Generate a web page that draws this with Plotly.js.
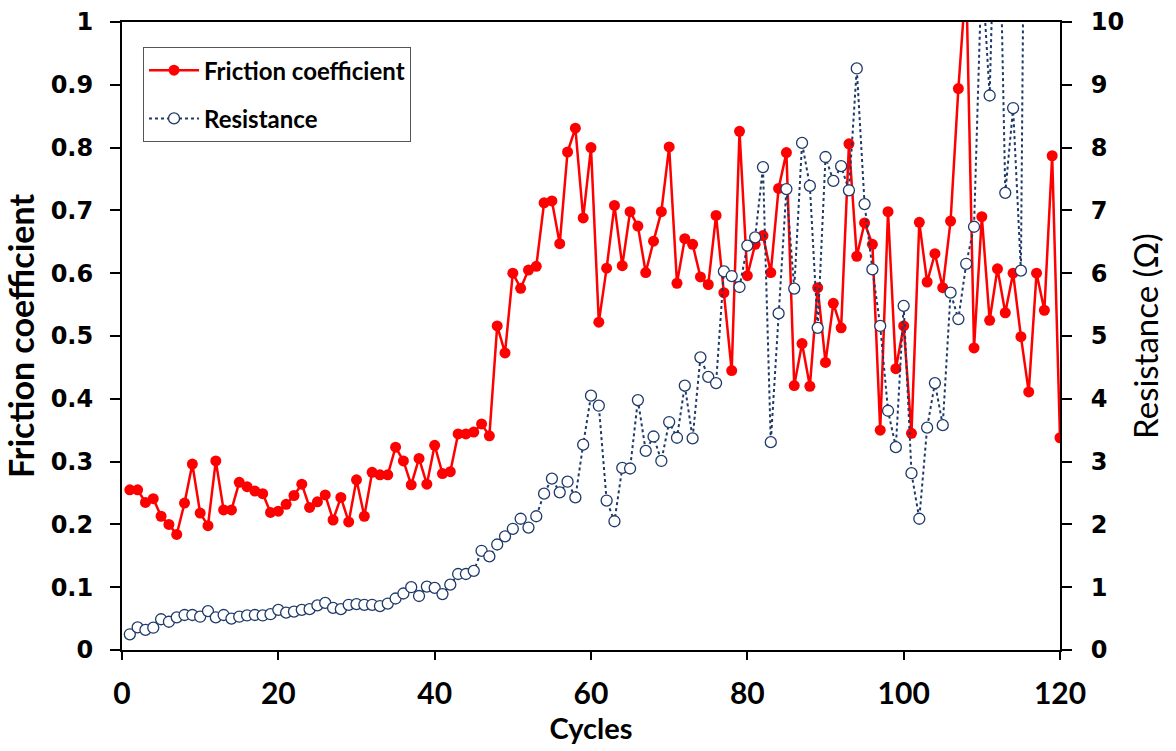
<!DOCTYPE html>
<html>
<head>
<meta charset="utf-8">
<script src="https://cdn.plot.ly/plotly-3.0.1.min.js"></script>
<style>html,body{margin:0;padding:0;background:#fff;}#chart{width:1176px;height:751px;}</style>
</head>
<body>
<div id="chart"></div>
<script>
const cycles = [1,2,3,4,5,6,7,8,9,10,11,12,13,14,15,16,17,18,19,20,
  21,22,23,24,25,26,27,28,29,30,31,32,33,34,35,36,37,38,39,40,
  41,42,43,44,45,46,47,48,49,50,51,52,53,54,55,56,57,58,59,60,
  61,62,63,64,65,66,67,68,69,70,71,72,73,74,75,76,77,78,79,80,
  81,82,83,84,85,86,87,88,89,90,91,92,93,94,95,96,97,98,99,100,
  101,102,103,104,105,106,107,108,109,110,111,112,113,114,115,116,117,118,119,120];

const friction = [0.255,0.255,0.235,0.241,0.213,0.200,0.184,0.234,0.296,0.218,
  0.198,0.301,0.223,0.223,0.267,0.260,0.253,0.249,0.219,0.221,
  0.232,0.246,0.264,0.227,0.236,0.247,0.207,0.243,0.204,0.271,
  0.213,0.283,0.279,0.279,0.323,0.301,0.263,0.305,0.264,0.326,
  0.281,0.284,0.344,0.344,0.347,0.360,0.341,0.516,0.473,0.600,
  0.576,0.605,0.611,0.712,0.715,0.647,0.793,0.831,0.688,0.800,
  0.522,0.608,0.708,0.612,0.698,0.675,0.601,0.651,0.698,0.801,
  0.584,0.655,0.646,0.594,0.582,0.692,0.569,0.445,0.826,0.596,
  0.646,0.660,0.601,0.735,0.792,0.421,0.488,0.420,0.577,0.458,
  0.552,0.513,0.806,0.627,0.680,0.646,0.350,0.698,0.448,0.516,
  0.345,0.681,0.586,0.631,0.577,0.683,0.894,1.070,0.481,0.690,
  0.525,0.607,0.537,0.600,0.499,0.411,0.600,0.541,0.787,0.338];

const resistanceCycles = [1,2,3,4,5,6,7,8,9,10,11,12,13,14,15,16,17,18,19,20,
  21,22,23,24,25,26,27,28,29,30,31,32,33,34,35,36,37,38,39,40,
  41,42,43,44,45,46,47,48,49,50,51,52,53,54,55,56,57,58,59,60,
  61,62,63,64,65,66,67,68,69,70,71,72,73,74,75,76,77,78,79,80,
  81,82,83,84,85,86,87,88,89,90,91,92,93,94,95,96,97,98,99,100,
  101,102,103,104,105,106,107,108,109,110,111,112,113,114,115,116];

const resistance = [0.25,0.36,0.32,0.355,0.49,0.45,0.52,0.557,0.557,0.53,
  0.62,0.52,0.557,0.50,0.53,0.55,0.557,0.55,0.57,0.64,
  0.595,0.61,0.64,0.65,0.71,0.75,0.67,0.65,0.72,0.73,
  0.72,0.72,0.70,0.74,0.82,0.90,1.00,0.86,1.01,0.99,
  0.89,1.04,1.21,1.21,1.26,1.58,1.49,1.68,1.81,1.93,
  2.09,1.95,2.13,2.49,2.73,2.51,2.68,2.43,3.27,4.05,
  3.89,2.38,2.05,2.90,2.89,3.98,3.17,3.40,3.01,3.63,
  3.38,4.21,3.37,4.66,4.35,4.25,6.03,5.955,5.78,6.44,
  6.57,7.69,3.31,5.36,7.34,5.755,8.075,7.39,5.13,7.85,
  7.47,7.705,7.32,9.26,7.10,6.06,5.16,3.81,3.23,5.48,
  2.815,2.09,3.54,4.25,3.58,5.69,5.27,6.15,6.74,10.9,
  8.83,13.5,7.28,8.63,6.04,21.0];

const xTicks = [0,20,40,60,80,100,120];

const tickFont = {family: 'DejaVu Sans, Verdana, sans-serif', size: 24, color: '#000', weight: 'bold'};
const calFont = {family: 'Lato, Carlito, sans-serif', color: '#000', weight: 'bold'};

const traces = [
  {
    x: cycles, y: friction, name: 'Friction coefficient', type: 'scatter', mode: 'lines+markers',
    line: {color: '#ff0000', width: 2.5},
    marker: {color: '#ff0000', size: 11},
    legendgroup: 'a', cliponaxis: true
  },
  {
    x: resistanceCycles, y: resistance, name: 'Resistance', type: 'scatter', mode: 'lines+markers',
    yaxis: 'y2',
    line: {color: '#1f3a68', width: 2, dash: 'dot'},
    marker: {color: '#ffffff', size: 11, line: {color: '#1f3a68', width: 1.3}},
    legendgroup: 'b', cliponaxis: true
  }
];

const layout = {
  width: 1176, height: 751,
  margin: {l: 122, r: 116, t: 22, b: 101},
  paper_bgcolor: '#fff', plot_bgcolor: '#fff',
  showlegend: true,
  legend: {
    x: 0.0224, y: 0.96, xanchor: 'left', yanchor: 'top',
    bgcolor: '#fff', bordercolor: '#555', borderwidth: 1,
    font: Object.assign({size: 24}, calFont),
    traceorder: 'grouped', tracegroupgap: 14, itemwidth: 50
  },
  xaxis: {
    range: [0, 120], tickvals: xTicks, ticktext: xTicks.map(String),
    ticks: 'outside', ticklen: 8, tickwidth: 2, tickcolor: '#000',
    showline: true, linewidth: 2, linecolor: '#000', mirror: true,
    showgrid: false, zeroline: false, ticklabelstandoff: 8,
    tickfont: Object.assign({size: 30}, calFont),
    title: {text: 'Cycles', font: Object.assign({size: 29}, calFont), standoff: 10}
  },
  yaxis: {
    range: [0, 1], dtick: 0.1, tick0: 0,
    ticks: 'outside', ticklen: 10, tickwidth: 2, tickcolor: '#000',
    showline: true, linewidth: 2, linecolor: '#000',
    showgrid: false, zeroline: false, ticklabelstandoff: 12,
    tickfont: tickFont,
    title: {text: 'Friction coefficient', font: Object.assign({size: 34}, calFont), standoff: 10}
  },
  yaxis2: {
    range: [0, 10], dtick: 1, tick0: 0, overlaying: 'y', side: 'right',
    ticks: 'outside', ticklen: 10, tickwidth: 2, tickcolor: '#000',
    showline: true, linewidth: 2, linecolor: '#000',
    showgrid: false, zeroline: false, ticklabelstandoff: 14,
    tickfont: tickFont,
    title: {text: 'Resistance (Ω)', font: {family: 'Lato, Carlito, sans-serif', size: 33, color: '#000'}, standoff: 12}
  }
};

Plotly.newPlot('chart', traces, layout, {displayModeBar: false, staticPlot: true});
</script>
</body>
</html>
